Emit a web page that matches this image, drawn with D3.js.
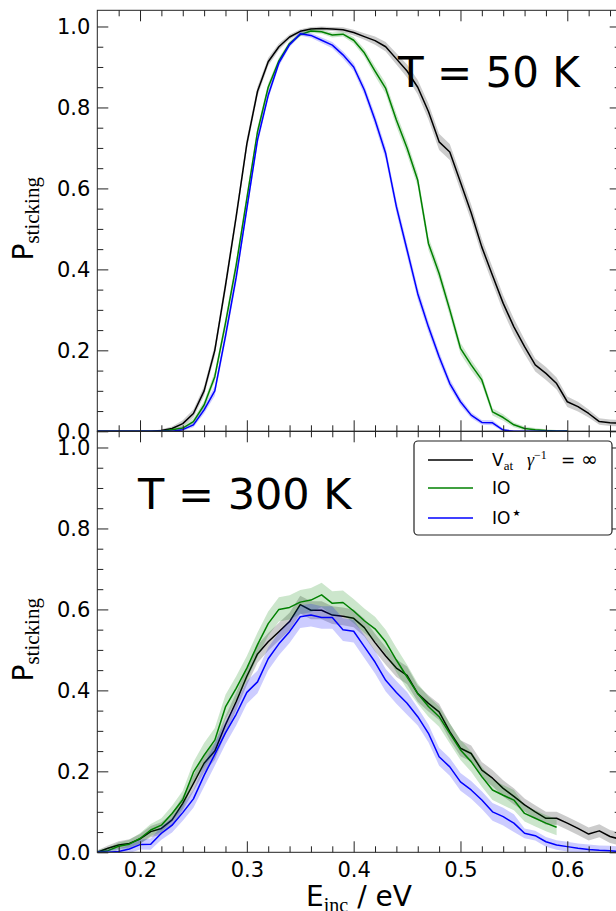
<!DOCTYPE html>
<html><head><meta charset="utf-8">
<script src="https://cdn.jsdelivr.net/npm/d3@7/dist/d3.min.js"></script>
<style>body{margin:0;background:#fff}svg{display:block}</style>
</head><body>
<script>
// ---------- data ----------
const energies = [0.16,0.17,0.18,0.19,0.20,0.21,0.22,0.23,0.24,0.25,0.26,0.27,0.28,0.29,0.30,0.31,0.32,0.33,0.34,0.35,0.36,0.37,0.38,0.39,0.40,0.41,0.42,0.43,0.44,0.45,0.46,0.47,0.48,0.49,0.50,0.51,0.52,0.53,0.54,0.55,0.56,0.57,0.58,0.59,0.60,0.61,0.62,0.63,0.64,0.65];

const seriesNames = ["Vat", "IO", "IO*"];
const seriesColors = ["#000000", "#008000", "#0000ff"];
const panelLabels = ["T = 50 K", "T = 300 K"];

// T = 50 K
const t50_vat = [0,0,0,0,0,0,0.002,0.007,0.019,0.044,0.10,0.20,0.36,0.53,0.71,0.84,0.913,0.95,0.974,0.988,0.994,0.995,0.994,0.992,0.985,0.975,0.965,0.95,0.92,0.89,0.85,0.79,0.715,0.69,0.615,0.54,0.455,0.385,0.316,0.258,0.209,0.164,0.143,0.118,0.073,0.061,0.044,0.024,0.021,0.02];
const t50_vat_err = [0,0,0,0,0,0,0.003,0.005,0.008,0.01,0.012,0.014,0.015,0.015,0.014,0.012,0.01,0.008,0.006,0.005,0.005,0.005,0.005,0.006,0.007,0.008,0.01,0.012,0.014,0.016,0.018,0.02,0.02,0.02,0.02,0.02,0.02,0.02,0.02,0.02,0.018,0.016,0.016,0.015,0.013,0.012,0.01,0.008,0.008,0.008];
const t50_io = [0,0,0,0,0,0,0,0.004,0.008,0.024,0.065,0.135,0.267,0.41,0.575,0.74,0.85,0.915,0.958,0.98,0.989,0.987,0.979,0.981,0.966,0.935,0.89,0.847,0.769,0.70,0.62,0.464,0.39,0.30,0.205,0.164,0.127,0.048,0.034,0.016,0.007,0.004,0.002,0.001,0.001,null,null,null,null,null];
const t50_io_err = [0,0,0,0,0,0,0,0.003,0.005,0.008,0.01,0.012,0.014,0.015,0.014,0.012,0.01,0.008,0.006,0.005,0.005,0.005,0.006,0.006,0.008,0.01,0.012,0.014,0.016,0.016,0.016,0.016,0.016,0.015,0.014,0.013,0.012,0.009,0.008,0.006,0.005,0.004,0.003,0.002,0.002,null,null,null,null,null];
const t50_ios = [0,0,0,0,0,0,0,0,0.004,0.016,0.053,0.10,0.235,0.38,0.55,0.72,0.83,0.91,0.955,0.982,0.978,0.966,0.954,0.93,0.90,0.843,0.769,0.686,0.555,0.448,0.34,0.258,0.184,0.118,0.073,0.04,0.022,0.021,0.003,0,0,0,0,0,0,null,null,null,null,null];
const t50_ios_err = [0,0,0,0,0,0,0,0,0.003,0.006,0.009,0.012,0.014,0.015,0.014,0.012,0.01,0.008,0.006,0.005,0.006,0.007,0.008,0.009,0.01,0.012,0.014,0.015,0.016,0.016,0.015,0.014,0.013,0.011,0.009,0.007,0.006,0.006,0.004,0.002,0.001,0.001,0.001,0.001,0.001,null,null,null,null,null];

// T = 300 K
const t300_vat = [0.0,0.01,0.018,0.022,0.033,0.051,0.059,0.08,0.121,0.17,0.22,0.25,0.315,0.372,0.435,0.49,0.52,0.545,0.57,0.612,0.598,0.598,0.586,0.583,0.578,0.555,0.518,0.485,0.455,0.437,0.392,0.368,0.347,0.298,0.257,0.244,0.203,0.183,0.158,0.138,0.117,0.10,0.084,0.084,0.072,0.059,0.045,0.053,0.039,0.032];
const t300_vat_err = [0.005,0.007,0.009,0.01,0.012,0.014,0.015,0.016,0.018,0.02,0.022,0.022,0.022,0.022,0.022,0.022,0.022,0.022,0.022,0.022,0.022,0.022,0.022,0.022,0.022,0.022,0.022,0.022,0.022,0.022,0.02,0.02,0.02,0.02,0.02,0.02,0.02,0.02,0.02,0.02,0.016,0.016,0.016,0.016,0.016,0.016,0.016,0.016,0.016,0.016];
const t300_io = [0.0,0.004,0.015,0.02,0.034,0.055,0.067,0.096,0.13,0.198,0.24,0.277,0.359,0.405,0.455,0.513,0.565,0.60,0.605,0.618,0.623,0.636,0.615,0.617,0.596,0.572,0.552,0.52,0.475,0.433,0.392,0.36,0.335,0.294,0.253,0.224,0.187,0.154,0.141,0.129,0.096,0.084,0.072,0.062,null,null,null,null,null,null];
const t300_io_err = [0.005,0.007,0.009,0.011,0.013,0.015,0.017,0.019,0.022,0.025,0.03,0.03,0.03,0.03,0.03,0.03,0.03,0.03,0.03,0.03,0.03,0.03,0.03,0.03,0.03,0.03,0.03,0.03,0.03,0.03,0.025,0.025,0.025,0.025,0.025,0.025,0.025,0.025,0.025,0.025,0.02,0.02,0.02,0.02,null,null,null,null,null,null];
const t300_ios = [0,0,0.002,0.008,0.019,0.02,0.047,0.067,0.098,0.132,0.19,0.242,0.295,0.341,0.395,0.421,0.478,0.515,0.545,0.582,0.586,0.58,0.58,0.55,0.546,0.508,0.47,0.425,0.395,0.368,0.335,0.294,0.236,0.211,0.174,0.154,0.129,0.10,0.088,0.072,0.047,0.041,0.026,0.018,0.014,0.01,0.007,0.005,0.004,0.002];
const t300_ios_err = [0.004,0.006,0.008,0.01,0.012,0.014,0.016,0.018,0.02,0.022,0.028,0.028,0.028,0.028,0.028,0.028,0.028,0.028,0.028,0.028,0.028,0.028,0.028,0.028,0.028,0.028,0.028,0.028,0.028,0.028,0.022,0.022,0.022,0.022,0.022,0.022,0.022,0.022,0.022,0.022,0.012,0.012,0.012,0.012,0.012,0.012,0.012,0.012,0.012,0.012];

const xMajorTicks = [0.2, 0.3, 0.4, 0.5, 0.6];
const xMinorTicks = [0.18,0.22,0.24,0.26,0.28,0.32,0.34,0.36,0.38,0.42,0.44,0.46,0.48,0.52,0.54,0.56,0.58,0.62,0.64];
const yMajorTicks = [0.0, 0.2, 0.4, 0.6, 0.8, 1.0];
const yMinorTicks = [0.05,0.1,0.15,0.25,0.3,0.35,0.45,0.5,0.55,0.65,0.7,0.75,0.85,0.9,0.95];

// ---------- drawing ----------
const W = 616, H = 911;
const SANS = "'DejaVu Sans', sans-serif";
const SERIF = "'Liberation Serif', 'DejaVu Serif', serif";
const svg = d3.select("body").append("svg").attr("width", W).attr("height", H);
const x = d3.scaleLinear().domain([0.16, 0.65]).range([97.3, 620.7]);

const panels = [
  {top: 10.3, bottom: 431.3, label: panelLabels[0], lx: 398, ly: 87, showX: false,
   series: [[t50_vat, t50_vat_err], [t50_io, t50_io_err], [t50_ios, t50_ios_err]]},
  {top: 431.3, bottom: 852.3, label: panelLabels[1], lx: 138, ly: 509, showX: true,
   series: [[t300_vat, t300_vat_err], [t300_io, t300_io_err], [t300_ios, t300_ios_err]]}
];

const axisCol = "#222";
function styleAxis(g) {
  g.select(".domain").remove();
  g.selectAll(".tick line").attr("stroke", axisCol).attr("stroke-width", 1);
  g.selectAll(".tick text").attr("font-family", SANS).attr("font-size", 21).attr("fill", "#000");
}

panels.forEach((p, pi) => {
  const y = d3.scaleLinear().domain([0, 1.04]).range([p.bottom, p.top]);
  const x0 = x.range()[0], x1 = x.range()[1];
  const clipId = "clip" + pi;
  svg.append("clipPath").attr("id", clipId).append("rect")
    .attr("x", x0).attr("y", p.top).attr("width", x1 - x0).attr("height", p.bottom - p.top);
  const plot = svg.append("g").attr("clip-path", `url(#${clipId})`);

  p.series.forEach(([vals, errs], si) => {
    const pts = energies.map((e, i) => ({e, v: vals[i], s: errs[i]}));
    const area = d3.area().defined(d => d.v != null)
      .x(d => x(d.e)).y0(d => y(d.v - d.s)).y1(d => y(d.v + d.s));
    const line = d3.line().defined(d => d.v != null)
      .x(d => x(d.e)).y(d => y(d.v));
    plot.append("path").datum(pts).attr("d", area)
      .attr("fill", seriesColors[si]).attr("fill-opacity", 0.2).attr("stroke", "none");
    plot.append("path").datum(pts).attr("d", line)
      .attr("fill", "none").attr("stroke", seriesColors[si]).attr("stroke-width", 1.5)
      .attr("stroke-linejoin", "round");
  });

  // spines
  svg.append("rect").attr("x", x0).attr("y", p.top).attr("width", x1 - x0).attr("height", p.bottom - p.top)
    .attr("fill", "none").attr("stroke", axisCol).attr("stroke-width", 1);

  // left axis
  svg.append("g").attr("transform", `translate(${x0},0)`)
    .call(d3.axisLeft(y).tickValues(yMajorTicks).tickSizeInner(-11).tickSizeOuter(0).tickPadding(7).tickFormat(d3.format(".1f")))
    .call(styleAxis);
  svg.append("g").attr("transform", `translate(${x0},0)`)
    .call(d3.axisLeft(y).tickValues(yMinorTicks).tickSizeInner(-6).tickSizeOuter(0).tickFormat(""))
    .call(styleAxis);
  // right axis
  svg.append("g").attr("transform", `translate(${x1},0)`)
    .call(d3.axisRight(y).tickValues(yMajorTicks).tickSizeInner(-11).tickSizeOuter(0).tickFormat(""))
    .call(styleAxis);
  svg.append("g").attr("transform", `translate(${x1},0)`)
    .call(d3.axisRight(y).tickValues(yMinorTicks).tickSizeInner(-6).tickSizeOuter(0).tickFormat(""))
    .call(styleAxis);
  // top axis
  svg.append("g").attr("transform", `translate(0,${p.top})`)
    .call(d3.axisTop(x).tickValues(xMajorTicks).tickSizeInner(-11).tickSizeOuter(0).tickFormat(""))
    .call(styleAxis);
  svg.append("g").attr("transform", `translate(0,${p.top})`)
    .call(d3.axisTop(x).tickValues(xMinorTicks).tickSizeInner(-6).tickSizeOuter(0).tickFormat(""))
    .call(styleAxis);
  // bottom axis
  svg.append("g").attr("transform", `translate(0,${p.bottom})`)
    .call(d3.axisBottom(x).tickValues(xMajorTicks).tickSizeInner(-11).tickSizeOuter(0).tickPadding(9.5)
      .tickFormat(p.showX ? d3.format(".1f") : ""))
    .call(styleAxis);
  svg.append("g").attr("transform", `translate(0,${p.bottom})`)
    .call(d3.axisBottom(x).tickValues(xMinorTicks).tickSizeInner(-6).tickSizeOuter(0).tickFormat(""))
    .call(styleAxis);

  // y label
  const cy = (p.top + p.bottom) / 2 - 2;
  const yl = svg.append("text").attr("transform", `translate(33,${cy}) rotate(-90)`)
    .attr("text-anchor", "middle").attr("fill", "#000");
  yl.append("tspan").attr("font-family", SANS).attr("font-size", 28).text("P");
  yl.append("tspan").attr("font-family", SERIF).attr("font-size", 21).attr("dy", 6).text("sticking");

  // panel label
  svg.append("text").attr("x", p.lx).attr("y", p.ly).attr("font-family", SANS)
    .attr("font-size", pi === 0 ? 42 : 43).attr("fill", "#000").text(p.label);
});

// x label
const xl = svg.append("text").attr("x", 359).attr("y", 906).attr("text-anchor", "middle").attr("fill", "#000");
xl.append("tspan").attr("font-family", SANS).attr("font-size", 28).text("E");
xl.append("tspan").attr("font-family", SERIF).attr("font-size", 20).attr("dy", 6).text("inc");
xl.append("tspan").attr("font-family", SANS).attr("font-size", 28).attr("dy", -6).text(" / eV");

// legend
const leg = svg.append("g");
leg.append("rect").attr("x", 414).attr("y", 441).attr("width", 198).attr("height", 94).attr("rx", 4)
  .attr("fill", "#fff").attr("stroke", "#222").attr("stroke-width", 1.2);
const legY = [460, 488, 518];
seriesNames.forEach((n, i) => {
  leg.append("line").attr("x1", 428).attr("x2", 473).attr("y1", legY[i]).attr("y2", legY[i])
    .attr("stroke", seriesColors[i]).attr("stroke-width", 1.5);
});
const t0 = leg.append("text").attr("x", 492).attr("y", legY[0] + 6).attr("fill", "#000");
t0.append("tspan").attr("font-family", SANS).attr("font-size", 17).text("V");
t0.append("tspan").attr("font-family", SERIF).attr("font-size", 13).attr("dy", 4).text("at");
t0.append("tspan").attr("x", 527).attr("font-family", SERIF).attr("font-style", "italic").attr("font-size", 18).attr("dy", -4).text("γ");
t0.append("tspan").attr("font-family", SERIF).attr("font-size", 12).attr("dy", -7).text("−1");
t0.append("tspan").attr("x", 561).attr("font-family", SANS).attr("font-size", 17).attr("dy", 7).text("=");
t0.append("tspan").attr("x", 581).attr("font-family", SANS).attr("font-size", 20).text("∞");
leg.append("text").attr("x", 492).attr("y", legY[1] + 6).attr("fill", "#000")
  .attr("font-family", SANS).attr("font-size", 17).text("IO");
const t2 = leg.append("text").attr("x", 492).attr("y", legY[2] + 6).attr("fill", "#000")
  .attr("font-family", SANS).attr("font-size", 17);
t2.append("tspan").text("IO");
t2.append("tspan").attr("font-size", 9).attr("dx", 2).attr("dy", -8).text("★");
</script>
</body></html>
